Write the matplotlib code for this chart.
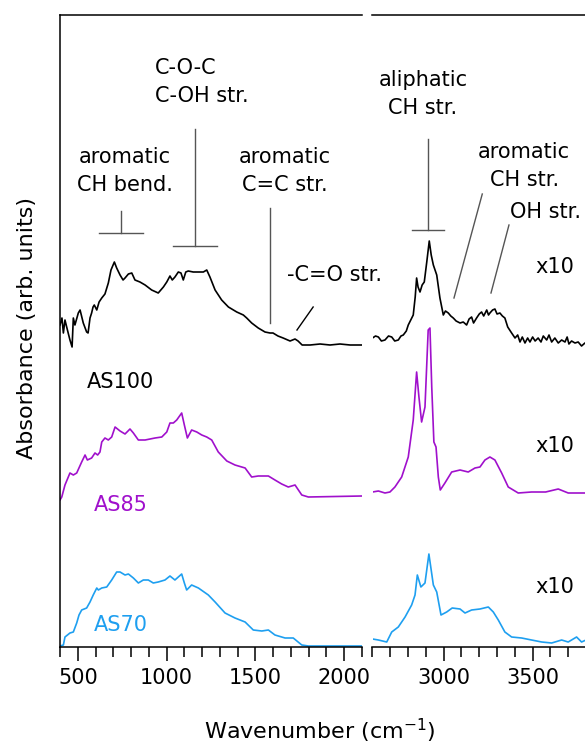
import matplotlib
matplotlib.use('Agg')
import matplotlib.pyplot as plt
from matplotlib.ticker import MultipleLocator

# spectra (wavenumber in cm-1, stacked absorbance in arb. units)
wn_as100_low = [400, 411, 419, 428, 439, 456, 468, 475, 484, 503, 513, 531, 550, 558, 569, 578, 586, 593, 607, 620,
                635, 653, 672, 687, 706, 719, 738, 755, 766, 785, 804, 822, 850, 879, 916, 953, 982, 1001, 1019, 1032,
                1047, 1066, 1081, 1094, 1108, 1122, 1150, 1179, 1207, 1226, 1244, 1273, 1310, 1348, 1395, 1432, 1451,
                1479, 1516, 1554, 1582, 1599, 1627, 1656, 1695, 1723, 1740, 1763, 1808, 1864, 1920, 1976, 2033, 2100]
a_as100_low = [322, 329, 314, 327, 319, 307, 300, 329, 322, 334, 337, 324, 315, 314, 329, 334, 340, 342, 337, 345,
               349, 353, 364, 377, 385, 379, 372, 367, 369, 373, 374, 367, 365, 362, 357, 354, 360, 365, 371, 367,
               370, 375, 374, 367, 375, 376, 375, 375, 375, 377, 370, 357, 347, 340, 335, 332, 329,
               324, 319, 315, 314, 314, 311, 309, 306, 308, 306, 302, 302, 303, 302, 303, 302, 302]

wn_as100_high = [2600, 2617, 2633, 2650, 2670, 2690, 2708, 2725, 2745, 2760, 2773, 2790, 2801, 2815, 2829, 2840, 2848,
                 2856, 2867, 2879, 2891, 2905, 2919, 2930, 2942, 2961, 2979, 2998, 3010, 3026, 3040, 3054, 3070, 3092,
                 3110, 3129, 3143, 3157, 3168, 3185, 3200, 3213, 3225, 3242, 3252, 3260, 3275, 3288, 3300, 3316, 3330,
                 3344, 3360, 3382, 3401, 3416, 3429, 3442, 3457, 3472, 3485, 3500, 3514, 3531, 3547, 3560, 3579, 3592,
                 3607, 3625, 3644, 3663, 3682, 3694, 3704, 3719, 3738, 3756, 3775, 3794, 3800]
a_as100_high = [309, 311, 310, 306, 307, 311, 310, 306, 307, 311, 312, 316, 322, 327, 332, 350, 369,
                360, 355, 362, 365, 385, 406, 392, 382, 372, 349, 332, 336, 334, 331, 329, 326, 324,
                325, 322, 328, 330, 324, 329, 333, 335, 331, 337, 332, 334, 337, 338, 333, 334, 331,
                329, 320, 314, 309, 312, 305, 310, 304, 309, 305, 310, 306, 309, 305, 311, 307, 312,
                305, 309, 304, 307, 305, 310, 303, 306, 304, 305, 301, 304, 303]

wn_as85_low = [400, 410, 428, 456, 475, 494, 522, 541, 554, 578, 597, 612, 625, 635, 653, 672, 691, 710, 738, 766,
               794, 813, 841, 879, 935, 973, 1001, 1019, 1038, 1057, 1085, 1100, 1117, 1141, 1170, 1198, 1226, 1254,
               1291, 1339, 1385, 1442, 1479, 1516, 1573, 1610, 1648, 1685, 1723, 1761, 1798, 2100]
a_as85_low = [147, 150, 162, 174, 172, 174, 185, 192, 187, 189, 194, 192, 195, 205, 209, 207, 210, 220, 216, 213,
              218, 214, 207, 207, 209, 210, 215, 224, 224, 227, 234, 222, 209, 217, 215, 212, 210, 207,
              195, 186, 182, 179, 170, 171, 171, 167, 163, 160, 162, 152, 150, 151]

wn_as85_high = [2600, 2633, 2670, 2698, 2726, 2764, 2801, 2829, 2848, 2861, 2876, 2895, 2913, 2923, 2933, 2945, 2957,
                2970, 2981, 3007, 3045, 3092, 3138, 3176, 3204, 3232, 3260, 3288, 3326, 3363, 3419, 3494, 3573, 3644,
                3700, 3800]
a_as85_high = [155, 156, 154, 155, 160, 170, 190, 227, 275, 250, 225, 240, 317, 319, 260, 205, 200,
               170, 157, 164, 175, 177, 175, 179, 180, 187, 190, 187, 174, 160, 154, 155, 155, 158,
               154, 154]

wn_as70_low = [400, 419, 428, 456, 475, 494, 507, 522, 550, 569, 587, 607, 616, 635, 663, 691, 719, 738, 766, 785,
               813, 841, 869, 897, 925, 953, 991, 1019, 1047, 1085, 1100, 1113, 1141, 1179, 1235, 1273, 1329, 1385,
               1442, 1488, 1536, 1573, 1610, 1667, 1713, 1761, 1798, 1930, 2100]
a_as70_low = [1, 2, 10, 14, 15, 24, 32, 37, 39, 45, 52, 59, 57, 59, 60, 67, 75, 75, 72, 73,
              69, 64, 67, 67, 64, 65, 67, 71, 67, 73, 64, 57, 62, 59, 52, 45, 34, 29,
              25, 17, 16, 17, 12, 9, 9, 2, 1, 1, 1]

wn_as70_high = [2600, 2633, 2680, 2708, 2745, 2783, 2820, 2839, 2852, 2872, 2895, 2917, 2942, 2961, 2985, 3017, 3048,
                3092, 3120, 3157, 3204, 3251, 3279, 3307, 3344, 3382, 3438, 3494, 3551, 3607, 3663, 3700, 3747, 3775,
                3800]
a_as70_high = [8, 7, 5, 15, 20, 30, 42, 52, 72, 60, 64, 93, 62, 55, 32, 35, 39,
               38, 34, 37, 38, 40, 35, 27, 15, 10, 9, 7, 5, 4, 7, 5, 10, 5,
               7]

sample_names = ['AS100', 'AS85', 'AS70']
sample_colors = ['black', '#A010CC', '#1E9FF0']
name_pos = [(552, 265), (591, 142), (591, 22)]
x10_height = [380, 201, 60]

fs = 15
plt.rcParams['font.family'] = ['DejaVu Sans']

fig = plt.figure(figsize=(5.85, 7.45), dpi=100)
ax1 = fig.add_axes([60/585, 98/745, 302/585, 632/745])
ax2 = fig.add_axes([372.5/585, 98/745, 213.5/585, 632/745])
ax2.patch.set_visible(False)  # so text from the left panel is not hidden

lows = [(wn_as100_low, a_as100_low), (wn_as85_low, a_as85_low), (wn_as70_low, a_as70_low)]
highs = [(wn_as100_high, a_as100_high), (wn_as85_high, a_as85_high), (wn_as70_high, a_as70_high)]
for i in range(3):
  ax1.plot(lows[i][0], lows[i][1], color=sample_colors[i], lw=1.2)
  ax2.plot(highs[i][0], highs[i][1], color=sample_colors[i], lw=1.2)
  ax1.text(name_pos[i][0], name_pos[i][1], sample_names[i], color=sample_colors[i], fontsize=fs,
           ha='left', va='center')
  ax2.text(3624, x10_height[i], 'x10', fontsize=fs, ha='center', va='center')

ax1.set_xlim(400, 2100)
ax2.set_xlim(2600, 3800)
for ax in (ax1, ax2):
  ax.set_ylim(0, 632)
  ax.set_yticks([])
  ax.spines['right'].set_visible(False)
  ax.xaxis.set_major_locator(MultipleLocator(500))
  ax.xaxis.set_minor_locator(MultipleLocator(100))
  ax.tick_params(axis='x', which='major', length=10, width=1.1, labelsize=fs, pad=5)
  ax.tick_params(axis='x', which='minor', length=7, width=1.1)
  for s in ax.spines.values():
    s.set_linewidth(1.1)
ax2.spines['left'].set_visible(False)

# band assignments
gray = '#555555'
ls = 1.45
ax1.plot([743, 743], [436, 414], color=gray, lw=1)
ax1.plot([620, 867], [414, 414], color=gray, lw=1)
ax1.text(766, 476, 'aromatic\nCH bend.', fontsize=fs, ha='center', va='center', linespacing=ls)
ax1.plot([1160, 1160], [518, 401], color=gray, lw=1)
ax1.plot([1036, 1284], [401, 401], color=gray, lw=1)
ax1.text(935, 565, 'C-O-C\nC-OH str.', fontsize=fs, ha='left', va='center', linespacing=ls)
ax1.plot([1582, 1582], [439, 324], color=gray, lw=1)
ax1.text(1667, 476, 'aromatic\nC=C str.', fontsize=fs, ha='center', va='center', linespacing=ls)
ax1.plot([1825, 1734], [340, 317], color='black', lw=1)
ax1.text(1678, 372, '-C=O str.', fontsize=fs, ha='left', va='center')

ax2.plot([2913, 2913], [508, 417], color=gray, lw=1)
ax2.plot([2820, 3003], [417, 417], color=gray, lw=1)
ax2.text(2884, 553, 'aliphatic\nCH str.', fontsize=fs, ha='center', va='center', linespacing=ls)
ax2.plot([3217, 3058], [453, 349], color=gray, lw=1)
ax2.text(3452, 481, 'aromatic\nCH str.', fontsize=fs, ha='center', va='center', linespacing=ls)
ax2.plot([3367, 3266], [422, 354], color=gray, lw=1)
ax2.text(3570, 435, 'OH str.', fontsize=fs, ha='center', va='center')

fig.text(320/585, 1 - 731/745, 'Wavenumber (cm$^{-1}$)', fontsize=16, ha='center', va='center')
fig.text(27/585, 1 - 328/745, 'Absorbance (arb. units)', fontsize=16, ha='center', va='center', rotation=90)

plt.savefig('out.png', dpi=100)
